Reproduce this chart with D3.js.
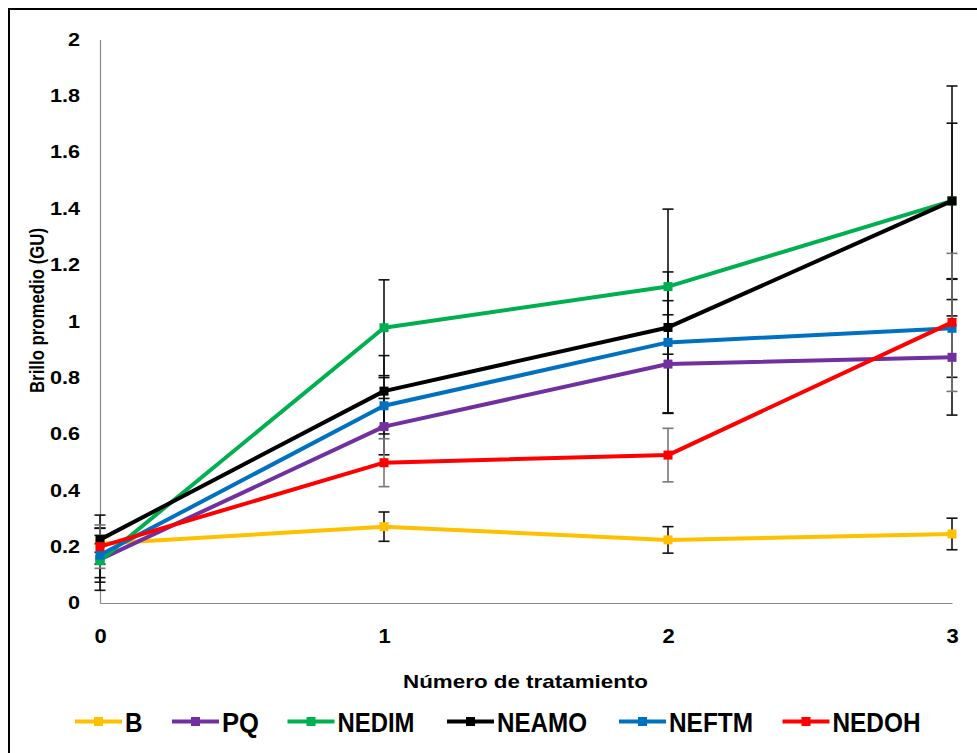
<!DOCTYPE html>
<html>
<head>
<meta charset="utf-8">
<script src="https://cdn.jsdelivr.net/npm/d3@7"></script>
<style>
  html, body { margin: 0; padding: 0; background: #fff; }
  svg { display: block; }
  text { font-family: "Liberation Sans", Arial, sans-serif; font-weight: bold; fill: #000; }
</style>
</head>
<body>
<svg id="chart" width="977" height="753"></svg>
<script>
// Treatment numbers on the x axis
const treatments = [0, 1, 2, 3];
const yTicks = [0, 0.2, 0.4, 0.6, 0.8, 1, 1.2, 1.4, 1.6, 1.8, 2];

// Mean brightness (GU) per series and the matching error half-widths
const seriesNames = ["B", "PQ", "NEDIM", "NEAMO", "NEFTM", "NEDOH"];
const seriesColors = ["#FFC000", "#7030A0", "#00B050", "#000000", "#0070C0", "#FF0000"];
const valB     = [0.21, 0.271, 0.224, 0.245];
const valPQ    = [0.155, 0.626, 0.848, 0.872];
const valNEDIM = [0.15, 0.977, 1.123, 1.427];
const valNEAMO = [0.225, 0.752, 0.978, 1.427];
const valNEFTM = [0.17, 0.70, 0.925, 0.975];
const valNEDOH = [0.20, 0.498, 0.525, 0.996];
const errB     = [0.03, 0.052, 0.047, 0.056];
const errPQ    = [0.11, 0.10, 0.175, 0.205];
const errNEDIM = [0.06, 0.17, 0.275, 0.408];
const errNEAMO = [0.087, 0.126, 0.095, 0.276];
const errNEFTM = [0.096, 0.10, 0.25, 0.174];
const errNEDOH = [0.077, 0.085, 0.095, 0.245];

const values = [valB, valPQ, valNEDIM, valNEAMO, valNEFTM, valNEDOH];
const errors = [errB, errPQ, errNEDIM, errNEAMO, errNEFTM, errNEDOH];
const series = seriesNames.map((name, i) => ({
  name, color: seriesColors[i],
  points: treatments.map((t, j) => ({ t, v: values[i][j], e: errors[i][j] }))
}));

const svg = d3.select("#chart");

// widen (or narrow) a text run by a factor of its natural width
function stretch(sel, factor) {
  sel.each(function () {
    const w = this.getComputedTextLength();
    d3.select(this).attr("textLength", w * factor).attr("lengthAdjust", "spacingAndGlyphs");
  });
}

// outer frame
svg.append("rect")
  .attr("x", 9).attr("y", 9).attr("width", 990).attr("height", 770)
  .attr("fill", "none").attr("stroke", "#000").attr("stroke-width", 2);

const x = d3.scaleLinear().domain([0, 3]).range([100, 952]);
const y = d3.scaleLinear().domain([0, 2]).range([603, 39.5]);

// axes (lines only, no tick marks)
const yAxis = d3.axisLeft(y).tickValues(yTicks).tickSize(0).tickPadding(20)
  .tickFormat(d => d3.format("")(+d.toFixed(1)));
const gy = svg.append("g").attr("transform", "translate(100,0)").call(yAxis);
gy.select(".domain").attr("stroke", "#888").attr("stroke-width", 1.2);
gy.selectAll("text").attr("font-size", 18).attr("font-family", "Liberation Sans, Arial, sans-serif")
  .attr("font-weight", "bold").attr("fill", "#000").call(stretch, 1.2);

const xAxis = d3.axisBottom(x).tickValues(treatments).tickSize(0).tickPadding(26)
  .tickFormat(d3.format("d"));
const gx = svg.append("g").attr("transform", "translate(0,603)").call(xAxis);
gx.select(".domain").attr("stroke", "#888").attr("stroke-width", 1.2);
gx.selectAll("text").attr("font-size", 20).attr("font-family", "Liberation Sans, Arial, sans-serif")
  .attr("font-weight", "bold").attr("fill", "#000").call(stretch, 1.1);

// axis titles
svg.append("text").attr("x", 525.5).attr("y", 688).attr("text-anchor", "middle")
  .attr("font-size", 18.5).attr("textLength", 245).attr("lengthAdjust", "spacingAndGlyphs")
  .text("Número de tratamiento");
svg.append("text").attr("transform", "translate(43.5,310.5) rotate(-90)")
  .attr("text-anchor", "middle").attr("font-size", 20.5)
  .attr("textLength", 165).attr("lengthAdjust", "spacingAndGlyphs")
  .text("Brillo promedio (GU)");

// error bars
const capW = 5.5;
const eg = svg.append("g");
series.forEach(s => {
  const col = s.name === "NEDOH" ? "#777" : "#111";
  const g = eg.append("g").attr("stroke", col).attr("stroke-width", 1.6).attr("fill", "none");
  s.points.forEach(p => {
    const cx = x(p.t), y1 = y(p.v + p.e), y2 = y(p.v - p.e);
    g.append("line").attr("x1", cx).attr("x2", cx).attr("y1", y1).attr("y2", y2);
    g.append("line").attr("x1", cx - capW).attr("x2", cx + capW).attr("y1", y1).attr("y2", y1);
    g.append("line").attr("x1", cx - capW).attr("x2", cx + capW).attr("y1", y2).attr("y2", y2);
  });
});

// lines and square markers
const line = d3.line().x(d => x(d.t)).y(d => y(d.v));
const ms = 9;
series.forEach(s => {
  const g = svg.append("g");
  g.append("path").datum(s.points).attr("d", line)
    .attr("fill", "none").attr("stroke", s.color).attr("stroke-width", 4)
    .attr("stroke-linejoin", "round");
  g.selectAll("rect").data(s.points).join("rect")
    .attr("x", d => x(d.t) - ms / 2).attr("y", d => y(d.v) - ms / 2)
    .attr("width", ms).attr("height", ms).attr("fill", s.color);
});

// legend
const legendX = [75, 172, 287.5, 447, 619, 782.5];
const legendW = [17.5, 37, 77, 90, 84, 88];
const legY = 721.5;
const lg = svg.append("g");
series.forEach((s, i) => {
  const lx = legendX[i];
  lg.append("line").attr("x1", lx).attr("x2", lx + 47).attr("y1", legY).attr("y2", legY)
    .attr("stroke", s.color).attr("stroke-width", 4);
  lg.append("rect").attr("x", lx + 23.5 - ms / 2).attr("y", legY - ms / 2)
    .attr("width", ms).attr("height", ms).attr("fill", s.color);
  lg.append("text").attr("x", lx + 50).attr("y", 731.5)
    .attr("font-size", 27).attr("textLength", legendW[i]).attr("lengthAdjust", "spacingAndGlyphs")
    .text(s.name);
});
</script>
</body>
</html>
